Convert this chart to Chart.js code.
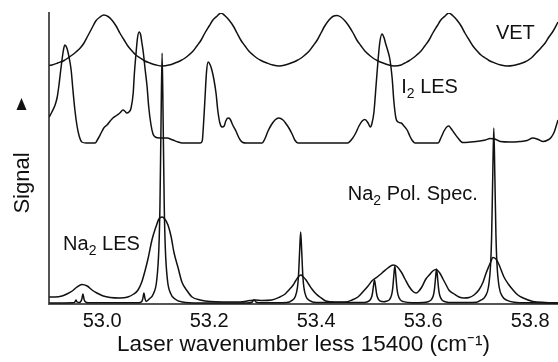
<!DOCTYPE html>
<html>
<head>
<meta charset="utf-8">
<script src="https://cdn.jsdelivr.net/npm/chart.js@4.4.1/dist/chart.umd.min.js"></script>
<style>
  html, body { margin: 0; padding: 0; background: #fff; }
  #chart { display: block; }
</style>
</head>
<body>
<canvas id="chart" width="558" height="362"></canvas>
<script>
// x = laser wavenumber less 15400 (cm-1), y = signal (arb. units)

// VET (etalon transmission), top trace
const vetX = [
  52.901, 52.906, 52.917, 52.929, 52.936, 52.944, 52.951, 52.959, 52.966, 52.973, 52.981, 52.988, 52.996, 53.003,
  53.011, 53.018, 53.026, 53.033, 53.041, 53.048, 53.056, 53.063, 53.071, 53.078, 53.089, 53.101, 53.112,
  53.125, 53.136, 53.147, 53.155, 53.162, 53.170, 53.177, 53.185, 53.192, 53.200, 53.207, 53.215, 53.222,
  53.230, 53.237, 53.245, 53.252, 53.259, 53.267, 53.274, 53.282, 53.289, 53.297, 53.308, 53.319, 53.331,
  53.342, 53.353, 53.364, 53.372, 53.379, 53.387, 53.394, 53.402, 53.409, 53.416, 53.424, 53.431, 53.439,
  53.446, 53.454, 53.461, 53.469, 53.476, 53.484, 53.491, 53.499, 53.506, 53.514, 53.525, 53.536, 53.545,
  53.559, 53.566, 53.573, 53.581, 53.588, 53.596, 53.603, 53.611, 53.618, 53.626, 53.633, 53.641, 53.648,
  53.656, 53.663, 53.671, 53.678, 53.686, 53.693, 53.701, 53.708, 53.716, 53.723, 53.734, 53.745, 53.757,
  53.768, 53.779, 53.790, 53.802, 53.811, 53.820, 53.828, 53.835, 53.843, 53.852
];
const vetY = [
  238.5, 239, 241, 243.5, 246, 249, 252, 256, 261, 268, 276, 283, 287, 289,
  287.5, 284, 278, 271, 264, 258, 253, 249, 246, 243.5, 241, 239, 238,
  239, 241, 243.5, 246, 249, 253, 258, 264, 271, 278, 284, 288, 291,
  288, 284, 278, 271, 264, 258, 253, 249, 246, 243.5, 241, 239, 238,
  239, 241, 243.5, 246, 249, 253, 258, 264, 271, 278, 284, 287.5, 288.5,
  287, 283, 278, 271, 264, 258, 253, 249, 246, 243.5, 241, 239, 238,
  239, 241, 243, 246, 249, 253, 258, 264, 271, 278, 284, 288, 291,
  288, 284, 278, 271, 264, 258, 253, 249, 246, 243.5, 241, 239, 238,
  238.5, 240, 242, 246, 251, 256, 261, 267, 273, 282
];

// I2 LES, middle trace
const i2X = [
  52.901, 52.906, 52.912, 52.916, 52.919, 52.923, 52.927, 52.930, 52.934, 52.938, 52.942, 52.945, 52.949, 52.953, 52.957,
  52.962, 52.970, 52.987, 52.992, 52.998, 53.003, 53.009, 53.015, 53.020, 53.028, 53.033, 53.039, 53.043, 53.046, 53.050,
  53.054, 53.058, 53.060, 53.063, 53.066, 53.069, 53.072, 53.074, 53.077, 53.080, 53.084, 53.087, 53.091, 53.095, 53.099,
  53.108, 53.121, 53.132, 53.142, 53.149, 53.183, 53.187, 53.189, 53.192, 53.195, 53.198, 53.202, 53.205, 53.209, 53.213,
  53.216, 53.220, 53.224, 53.228, 53.231, 53.235, 53.239, 53.244, 53.250, 53.254, 53.258, 53.263, 53.269, 53.299, 53.304,
  53.310, 53.316, 53.323, 53.330, 53.338, 53.344, 53.349, 53.355, 53.360, 53.366, 53.459, 53.467, 53.474, 53.480, 53.486,
  53.491, 53.497, 53.501, 53.504, 53.508, 53.512, 53.516, 53.519, 53.523, 53.527, 53.530, 53.534, 53.538, 53.542, 53.545,
  53.549, 53.553, 53.559, 53.564, 53.570, 53.575, 53.579, 53.585, 53.628, 53.633, 53.639, 53.645, 53.648, 53.652, 53.658,
  53.665, 53.674, 53.688, 53.706, 53.716, 53.725, 53.734, 53.744, 53.762, 53.781, 53.794, 53.805, 53.815, 53.824, 53.833,
  53.839, 53.845, 53.848, 53.852
];
const i2Y = [
  187, 192, 199, 207, 218, 236, 252, 259, 256, 247, 234, 216, 194, 178, 168,
  162, 161, 161, 165, 171, 176, 179, 183, 186, 189, 191, 194, 192.5, 191, 192,
  196, 211, 229, 249, 266, 272, 269, 262, 251, 236, 217, 197, 180, 170, 167,
  166, 166, 164, 162, 161, 161, 163, 176, 204, 232, 242, 239, 234, 224, 210,
  194, 181, 177, 178, 183, 186, 185, 179, 173, 168, 164, 161.5, 161, 161, 165,
  173, 179, 184, 186, 184, 180, 176, 170, 164, 161, 161, 165, 171, 178, 183,
  184.5, 181, 177, 180, 192, 219, 246, 262, 270, 266, 260, 253, 244, 226, 204,
  186, 182, 181, 178, 174, 168, 164, 161, 161, 166, 173, 177.5, 178, 175.5, 171,
  166, 161.5, 162, 163, 164, 165.5, 165, 162.5, 162, 162.5, 163.5, 166, 164.5, 162.5, 164,
  166.5, 172, 177, 184
];

// Na2 LES, broad peaks at the bottom
const naLesX = [
  52.901, 52.912, 52.925, 52.934, 52.944, 52.953, 52.962, 52.972, 52.981, 52.990,
  53.002, 53.015, 53.033, 53.048, 53.059, 53.067, 53.074, 53.080, 53.086, 53.093,
  53.101, 53.106, 53.112, 53.117, 53.123, 53.129, 53.134, 53.142, 53.149, 53.159,
  53.168, 53.183, 53.202, 53.258, 53.276, 53.286, 53.299, 53.317, 53.332, 53.342,
  53.349, 53.357, 53.362, 53.368, 53.372, 53.375, 53.381, 53.387, 53.392, 53.400,
  53.407, 53.418, 53.435, 53.454, 53.467, 53.478, 53.487, 53.497, 53.504, 53.514,
  53.523, 53.534, 53.544, 53.551, 53.559, 53.566, 53.573, 53.581, 53.587, 53.592,
  53.598, 53.605, 53.613, 53.618, 53.624, 53.631, 53.637, 53.643, 53.648, 53.658,
  53.667, 53.676, 53.686, 53.695, 53.704, 53.712, 53.717, 53.723, 53.727, 53.730,
  53.736, 53.742, 53.751, 53.759, 53.768, 53.777, 53.787, 53.805, 53.828, 53.852
];
const naLesY = [
  7, 7, 8, 10, 13, 17, 19.5, 18, 14, 11,
  8, 6.5, 6, 7, 10, 14, 22, 33, 46, 64,
  78, 85, 87, 85, 79, 67, 52, 36, 22, 13,
  7, 4, 2.5, 2, 3.5, 4, 3.5, 4, 7, 10,
  14, 19, 23.5, 28, 29, 27.5, 24, 19, 15, 10,
  7, 3, 2, 2, 4, 7, 12, 18, 23, 27,
  31, 36, 39, 37.5, 32, 25, 18, 12.5, 11, 13,
  17.5, 25, 30, 33, 34.5, 31, 25, 19, 14, 10,
  7, 6, 6.5, 9, 14, 22, 30, 38, 43, 46.5,
  45, 39, 27, 20, 14, 9, 6, 2.5, 1.5, 1
];

// Na2 polarization spectrum, narrow lines at the bottom
const naPolX = [
  52.901, 52.945, 52.949, 52.951, 52.953, 52.957, 52.960, 52.962, 52.964, 52.966, 52.968, 52.974,
  53.068, 53.074, 53.076, 53.078, 53.080, 53.082, 53.088, 53.096, 53.102, 53.106, 53.108, 53.110,
  53.112, 53.114, 53.116, 53.118, 53.122, 53.128, 53.136, 53.150, 53.180, 53.270, 53.280, 53.284,
  53.288, 53.300, 53.345, 53.355, 53.361, 53.365, 53.367, 53.369, 53.371, 53.373, 53.375, 53.377,
  53.381, 53.387, 53.400, 53.490, 53.499, 53.503, 53.505, 53.507, 53.509, 53.511, 53.513, 53.515,
  53.519, 53.527, 53.531, 53.537, 53.541, 53.543, 53.545, 53.547, 53.549, 53.551, 53.553, 53.557,
  53.563, 53.580, 53.600, 53.609, 53.615, 53.619, 53.621, 53.623, 53.625, 53.627, 53.629, 53.631,
  53.635, 53.641, 53.655, 53.700, 53.708, 53.716, 53.722, 53.726, 53.728, 53.730, 53.732, 53.734,
  53.736, 53.738, 53.742, 53.748, 53.756, 53.770, 53.800, 53.852
];
const naPolY = [
  1, 1.2, 2, 4, 2, 1.5, 2.5, 5, 10, 5, 2.5, 1.2,
  1.2, 2.5, 5.5, 11, 5.5, 2.5, 5, 10.5, 24, 56, 98.5, 181,
  251, 181, 98.5, 56, 24, 10.5, 5, 2, 1, 1, 1.8, 4,
  1.8, 1.2, 1.5, 3.7, 7.5, 16.6, 28.7, 52, 72, 52, 28.7, 16.6,
  7.5, 3.7, 1.5, 1.5, 3.1, 6.1, 10, 17.6, 24, 17.6, 10, 6.1,
  3.1, 2.2, 2.8, 4.4, 9.1, 15.4, 27.6, 38, 27.6, 15.4, 9.1, 4.4,
  2.4, 1.3, 1.5, 2.3, 4.1, 8.5, 14.3, 25.5, 35, 25.5, 14.3, 8.5,
  4.1, 2.3, 1.4, 1.8, 3.8, 7.6, 17, 39.5, 69, 127, 176, 127,
  69, 39.5, 17, 7.6, 3.8, 1.8, 1.2, 1
];

const xTicks = [53.0, 53.2, 53.4, 53.6, 53.8];

// trace labels, placed in data coordinates (left edge, baseline)
const curveLabels = [
  { x: 53.736, y: 265, parts: [{ t: 'VET' }] },
  { x: 53.559, y: 211, parts: [{ t: 'I' }, { t: '2', sub: true }, { t: ' LES' }] },
  { x: 52.927, y: 54, parts: [{ t: 'Na' }, { t: '2', sub: true }, { t: ' LES' }] },
  { x: 53.459, y: 104, parts: [{ t: 'Na' }, { t: '2', sub: true }, { t: ' Pol. Spec.' }] }
];

const fontFamily = '"Liberation Sans", Arial, Helvetica, sans-serif';
Chart.defaults.font.family = fontFamily;
Chart.defaults.color = '#111';

function toPoints(xs, ys) {
  return xs.map((x, i) => ({ x: x, y: ys[i] }));
}

const lineStyle = {
  borderColor: '#111',
  borderWidth: 1.5,
  pointRadius: 0,
  fill: false,
  cubicInterpolationMode: 'monotone'
};

const labelPlugin = {
  id: 'curveLabels',
  afterDraw(chart) {
    const { ctx, scales: { x, y } } = chart;
    ctx.save();
    ctx.fillStyle = '#111';
    ctx.textAlign = 'left';
    ctx.textBaseline = 'alphabetic';
    curveLabels.forEach(lab => {
      let px = x.getPixelForValue(lab.x);
      const py = y.getPixelForValue(lab.y);
      lab.parts.forEach(p => {
        ctx.font = (p.sub ? 14 : 20) + 'px ' + fontFamily;
        ctx.fillText(p.t, px, py + (p.sub ? 5 : 0));
        px += ctx.measureText(p.t).width;
      });
    });

    // y axis title with the up arrow
    ctx.font = '22px ' + fontFamily;
    ctx.textAlign = 'center';
    ctx.translate(29, 183);
    ctx.rotate(-Math.PI / 2);
    ctx.fillText('Signal', 0, 0);
    ctx.setTransform(1, 0, 0, 1, 0, 0);
    ctx.beginPath();
    ctx.moveTo(21.5, 98);
    ctx.lineTo(26.5, 110);
    ctx.lineTo(16.5, 110);
    ctx.closePath();
    ctx.fill();
    ctx.restore();
  }
};

const ctx = document.getElementById('chart').getContext('2d');

new Chart(ctx, {
  type: 'line',
  data: {
    datasets: [
      { label: 'VET', data: toPoints(vetX, vetY), ...lineStyle },
      { label: 'I2 LES', data: toPoints(i2X, i2Y), ...lineStyle },
      { label: 'Na2 LES', data: toPoints(naLesX, naLesY), ...lineStyle },
      { label: 'Na2 Pol. Spec.', data: toPoints(naPolX, naPolY), ...lineStyle }
    ]
  },
  options: {
    responsive: false,
    animation: false,
    layout: { padding: { top: 13, right: 0, bottom: 0, left: 0 } },
    plugins: {
      legend: { display: false },
      tooltip: { enabled: false }
    },
    scales: {
      x: {
        type: 'linear',
        min: 52.9006,
        max: 53.852,
        grid: { display: false, drawTicks: false },
        border: { display: true, color: '#555', width: 2 },
        ticks: {
          font: { size: 20 },
          padding: 5,
          maxRotation: 0,
          callback: v => v.toFixed(1)
        },
        afterBuildTicks: scale => { scale.ticks = xTicks.map(v => ({ value: v })); },
        afterFit: scale => { scale.height = 58; },
        title: {
          display: true,
          text: 'Laser wavenumber less 15400 (cm\u207B\u00B9)',
          font: { size: 22.5 },
          padding: { top: 0, bottom: 4 }
        }
      },
      y: {
        min: 0,
        max: 291,
        grid: { display: false, drawTicks: false },
        border: { display: true, color: '#555', width: 2 },
        ticks: { display: false },
        afterFit: scale => { scale.width = 49; }
      }
    }
  },
  plugins: [labelPlugin]
});
</script>
</body>
</html>
